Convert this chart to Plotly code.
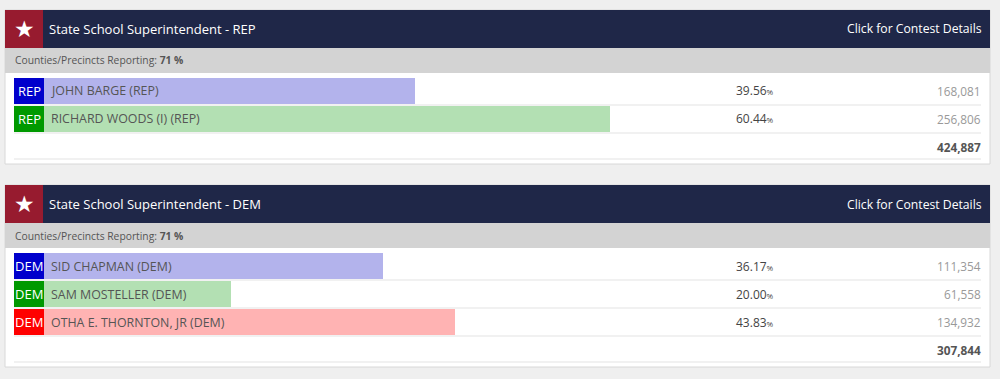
import plotly.graph_objects as go

W, H = 1000, 379

# ---------------- data ----------------
contest_titles = ["State School Superintendent - REP", "State School Superintendent - DEM"]
reporting_pct = ["71 %", "71 %"]

rep_candidates = ["JOHN BARGE (REP)", "RICHARD WOODS (I) (REP)"]
rep_party = ["REP", "REP"]
rep_pct = [39.56, 60.44]
rep_votes = [168081, 256806]
rep_total = 424887

dem_candidates = ["SID CHAPMAN (DEM)", "SAM MOSTELLER (DEM)", "OTHA E. THORNTON, JR (DEM)"]
dem_party = ["DEM", "DEM", "DEM"]
dem_pct = [36.17, 20.00, 43.83]
dem_votes = [111354, 61558, 134932]
dem_total = 307844

# ---------------- styles ----------------
BAR_COLORS = ["#b3b3ec", "#b3e0b3", "#ffb3b3"]
BOX_COLORS = ["#0000cc", "#009900", "#ff0000"]
PAGE_BG = "#efefef"
NAVY = "#1f2748"
STAR_RED = "#971b2f"
GRAY_ROW = "#d3d3d3"
SEP = "#e3e3e3"
FONT = "Open Sans"

def px(x):
    return x / W

def py(y):
    return 1 - y / H

panels = [
    dict(title=contest_titles[0], rep=reporting_pct[0], cands=rep_candidates, party=rep_party,
         pct=rep_pct, votes=rep_votes, total=rep_total, top=10),
    dict(title=contest_titles[1], rep=reporting_pct[1], cands=dem_candidates, party=dem_party,
         pct=dem_pct, votes=dem_votes, total=dem_total, top=185),
]

HEADER_H = 38
GRAY_H = 25
GAP = 4
ROW = 28
TOTAL_H = 26
PAD_B = 5
LEFT, RIGHT = 5, 990
ROW_L, ROW_R = 14, 981
BOX_L, BAR_L = 14, 44

fig = go.Figure()
shapes = []
annotations = []
layout_axes = {}

layout_axes["xaxis"] = dict(domain=[px(BAR_L), px(ROW_R)], range=[0, 100], visible=False, fixedrange=True)
layout_axes["xaxis2"] = dict(domain=[px(BOX_L), px(BAR_L)], range=[0, 1], visible=False, fixedrange=True)

for k, p in enumerate(panels):
    n = len(p["cands"])
    top = p["top"]
    h_end = top + HEADER_H
    g_end = h_end + GRAY_H
    r0 = g_end + GAP
    r1 = r0 + n * ROW
    t_end = r1 + TOTAL_H
    bottom = t_end + PAD_B

    yname = "yaxis" if k == 0 else f"yaxis{k + 1}"
    yref = "y" if k == 0 else f"y{k + 1}"
    layout_axes[yname] = dict(domain=[py(r1), py(r0)], type="category",
                              categoryorder="array", categoryarray=p["cands"],
                              range=[n - 0.5, -0.5], visible=False, fixedrange=True,
                              anchor="x")

    # panel background and border
    shapes.append(dict(type="rect", xref="paper", yref="paper", x0=px(LEFT), x1=px(RIGHT),
                       y0=py(bottom), y1=py(top), fillcolor="white",
                       line=dict(color="#d8d8d8", width=1), layer="below"))
    # header
    shapes.append(dict(type="rect", xref="paper", yref="paper", x0=px(LEFT), x1=px(RIGHT),
                       y0=py(h_end), y1=py(top), fillcolor=NAVY, line=dict(width=0), layer="below"))
    shapes.append(dict(type="rect", xref="paper", yref="paper", x0=px(LEFT), x1=px(43),
                       y0=py(h_end), y1=py(top), fillcolor=STAR_RED, line=dict(width=0), layer="below"))
    # gray reporting row
    shapes.append(dict(type="rect", xref="paper", yref="paper", x0=px(LEFT), x1=px(RIGHT),
                       y0=py(g_end), y1=py(h_end), fillcolor=GRAY_ROW, line=dict(width=0), layer="below"))
    # row separators
    for i in range(1, n + 1):
        yy = r0 + i * ROW
        shapes.append(dict(type="line", xref="paper", yref="paper", x0=px(ROW_L), x1=px(ROW_R),
                           y0=py(yy), y1=py(yy), line=dict(color=SEP, width=1), layer="below"))
    shapes.append(dict(type="line", xref="paper", yref="paper", x0=px(ROW_L), x1=px(ROW_R),
                       y0=py(t_end), y1=py(t_end), line=dict(color=SEP, width=1), layer="below"))

    # star and header texts
    annotations.append(dict(xref="paper", yref="paper", x=px(24.5), y=py(top + HEADER_H / 2),
                            text="★", showarrow=False, font=dict(family="DejaVu Sans", size=23, color="white"),
                            xanchor="center", yanchor="middle"))
    annotations.append(dict(xref="paper", yref="paper", x=px(47), y=py(top + HEADER_H / 2),
                            text=p["title"], showarrow=False, font=dict(family=FONT, size=13, color="white"),
                            xanchor="left", yanchor="middle"))
    annotations.append(dict(xref="paper", yref="paper", x=px(984), y=py(top + HEADER_H / 2),
                            text="Click for Contest Details", showarrow=False,
                            font=dict(family=FONT, size=12.2, color="white"),
                            xanchor="right", yanchor="middle"))
    annotations.append(dict(xref="paper", yref="paper", x=px(13), y=py(h_end + GRAY_H / 2),
                            text="Counties/Precincts Reporting: <b>" + p["rep"] + "</b>", showarrow=False,
                            font=dict(family=FONT, size=10.3, color="#555555"),
                            xanchor="left", yanchor="middle"))

    colors = BAR_COLORS[:n]
    boxc = BOX_COLORS[:n]
    fig.add_trace(go.Bar(x=p["pct"], y=p["cands"], orientation="h", xaxis="x", yaxis=yref,
                         marker=dict(color=colors, line=dict(width=0)), width=0.94,
                         hoverinfo="skip", showlegend=False))
    fig.add_trace(go.Bar(x=[1] * n, y=p["cands"], orientation="h", xaxis="x2", yaxis=yref,
                         marker=dict(color=boxc, line=dict(width=0)), width=0.94,
                         hoverinfo="skip", showlegend=False))

    for i, c in enumerate(p["cands"]):
        annotations.append(dict(xref="x2", yref=yref, x=0.5, y=c, text=p["party"][i], showarrow=False,
                                font=dict(family=FONT, size=13, color="white"),
                                xanchor="center", yanchor="middle"))
        annotations.append(dict(xref="x", yref=yref, x=0, y=c, xshift=5, text=c, showarrow=False,
                                font=dict(family=FONT, size=12.4, color="#555555"),
                                xanchor="left", yanchor="middle"))
        annotations.append(dict(xref="paper", yref=yref, x=px(734), y=c,
                                text=f"{p['pct'][i]:.2f}<span style='font-size:8px'>%</span>",
                                showarrow=False, font=dict(family=FONT, size=12, color="#444444"),
                                xanchor="left", yanchor="middle"))
        annotations.append(dict(xref="paper", yref=yref, x=px(983), y=c,
                                text=f"{p['votes'][i]:,}", showarrow=False,
                                font=dict(family=FONT, size=11.8, color="#999999"),
                                xanchor="right", yanchor="middle"))
    annotations.append(dict(xref="paper", yref="paper", x=px(983), y=py(r1 + TOTAL_H / 2 + 1),
                            text=f"<b>{p['total']:,}</b>", showarrow=False,
                            font=dict(family=FONT, size=11.8, color="#555555"),
                            xanchor="right", yanchor="middle"))

fig.update_layout(
    width=W, height=H,
    margin=dict(l=0, r=0, t=0, b=0),
    paper_bgcolor=PAGE_BG, plot_bgcolor="rgba(0,0,0,0)",
    shapes=shapes, annotations=annotations,
    barmode="overlay", bargap=0,
    **layout_axes,
)

fig.write_html("out.html", config={"displayModeBar": False},
               post_script="document.body.style.margin='0';document.body.style.background='#efefef';")
